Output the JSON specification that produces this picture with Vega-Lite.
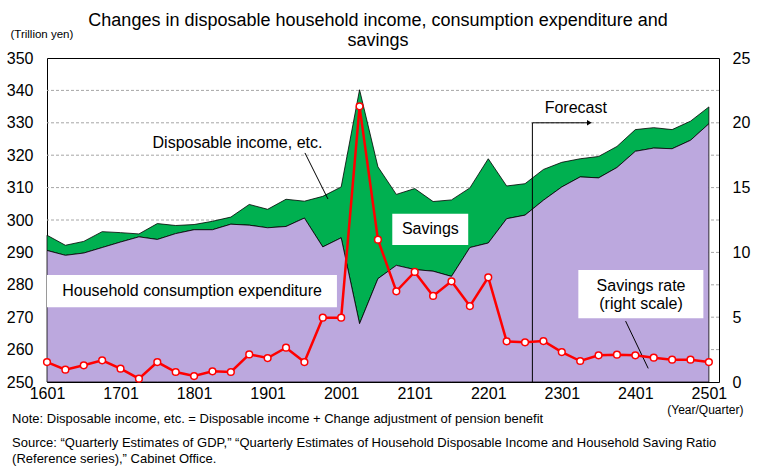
{
  "$schema": "https://vega.github.io/schema/vega-lite/v6.json",
  "width": 672,
  "height": 324,
  "autosize": {"type": "none"},
  "padding": {"left": 47, "top": 58, "right": 41, "bottom": 84},
  "background": "#ffffff",
  "config": {
    "font": "Liberation Sans",
    "view": {"stroke": "#000000", "strokeWidth": 1},
    "axis": {"labelColor": "#000000", "titleColor": "#000000", "labelFont": "Liberation Sans", "titleFont": "Liberation Sans", "labelOverlap": false}
  },
  "title": {
    "text": ["Changes in disposable household income, consumption expenditure and", "savings"],
    "fontSize": 18,
    "fontWeight": "normal",
    "color": "#000000",
    "anchor": "middle",
    "frame": "bounds",
    "lineHeight": 20,
    "offset": -22
  },
  "datasets": {
    "main": [
      {"i": 0, "q": "1601", "income": 295.3, "consumption": 290.6, "rate": 1.54},
      {"i": 1, "q": "1602", "income": 292.2, "consumption": 289.1, "rate": 0.95},
      {"i": 2, "q": "1603", "income": 293.4, "consumption": 289.8, "rate": 1.29},
      {"i": 3, "q": "1604", "income": 296.4, "consumption": 291.5, "rate": 1.67},
      {"i": 4, "q": "1701", "income": 296.1, "consumption": 293.2, "rate": 1.03},
      {"i": 5, "q": "1702", "income": 295.7, "consumption": 294.8, "rate": 0.26},
      {"i": 6, "q": "1703", "income": 298.9, "consumption": 294.0, "rate": 1.54},
      {"i": 7, "q": "1704", "income": 298.3, "consumption": 295.8, "rate": 0.77},
      {"i": 8, "q": "1801", "income": 298.6, "consumption": 297.0, "rate": 0.46},
      {"i": 9, "q": "1802", "income": 299.6, "consumption": 297.0, "rate": 0.82},
      {"i": 10, "q": "1803", "income": 300.9, "consumption": 298.7, "rate": 0.77},
      {"i": 11, "q": "1804", "income": 304.8, "consumption": 298.4, "rate": 2.13},
      {"i": 12, "q": "1901", "income": 303.3, "consumption": 297.6, "rate": 1.85},
      {"i": 13, "q": "1902", "income": 306.4, "consumption": 298.0, "rate": 2.65},
      {"i": 14, "q": "1903", "income": 305.8, "consumption": 300.6, "rate": 1.54},
      {"i": 15, "q": "1904", "income": 307.3, "consumption": 291.7, "rate": 4.96},
      {"i": 16, "q": "2001", "income": 310.2, "consumption": 294.5, "rate": 4.96},
      {"i": 17, "q": "2002", "income": 340.2, "consumption": 268.0, "rate": 21.27},
      {"i": 18, "q": "2003", "income": 316.4, "consumption": 281.9, "rate": 10.98},
      {"i": 19, "q": "2004", "income": 307.9, "consumption": 286.0, "rate": 7.0},
      {"i": 20, "q": "2101", "income": 309.7, "consumption": 284.7, "rate": 8.49},
      {"i": 21, "q": "2102", "income": 305.7, "consumption": 284.2, "rate": 6.64},
      {"i": 22, "q": "2103", "income": 306.2, "consumption": 282.6, "rate": 7.77},
      {"i": 23, "q": "2104", "income": 309.9, "consumption": 291.5, "rate": 5.86},
      {"i": 24, "q": "2201", "income": 318.9, "consumption": 292.9, "rate": 8.08},
      {"i": 25, "q": "2202", "income": 310.5, "consumption": 300.4, "rate": 3.14},
      {"i": 26, "q": "2203", "income": 311.2, "consumption": 301.5, "rate": 3.06},
      {"i": 27, "q": "2204", "income": 315.6, "consumption": 306.1, "rate": 3.16},
      {"i": 28, "q": "2301", "income": 317.8, "consumption": 310.2, "rate": 2.31},
      {"i": 29, "q": "2302", "income": 318.9, "consumption": 313.3, "rate": 1.62},
      {"i": 30, "q": "2303", "income": 319.6, "consumption": 313.0, "rate": 2.06},
      {"i": 31, "q": "2304", "income": 322.7, "consumption": 316.2, "rate": 2.11},
      {"i": 32, "q": "2401", "income": 327.9, "consumption": 321.2, "rate": 2.06},
      {"i": 33, "q": "2402", "income": 328.5, "consumption": 322.2, "rate": 1.88},
      {"i": 34, "q": "2403", "income": 327.9, "consumption": 322.0, "rate": 1.72},
      {"i": 35, "q": "2404", "income": 330.5, "consumption": 324.6, "rate": 1.72},
      {"i": 36, "q": "2501", "income": 334.9, "consumption": 329.7, "rate": 1.54}
    ],
    "grid": [
      {"g": 260}, {"g": 270}, {"g": 280}, {"g": 290}, {"g": 300},
      {"g": 310}, {"g": 320}, {"g": 330}, {"g": 340}
    ],
    "boxes": [
      {"box": "Household consumption expenditure", "x1": 0, "x2": 15.77, "y1": 283.0, "y2": 273.1},
      {"box": "Savings", "x1": 18.78, "x2": 22.91, "y1": 301.9, "y2": 292.3},
      {"box": "Savings rate", "x1": 28.9, "x2": 35.7, "y1": 284.6, "y2": 269.7}
    ],
    "labels": [
      {"label": "Disposable income, etc.", "x": 10.36, "y": 323.8},
      {"label": "Household consumption expenditure", "x": 7.89, "y": 278.2},
      {"label": "Savings", "x": 20.85, "y": 297.1},
      {"label": "Forecast", "x": 28.76, "y": 334.5},
      {"label": "Savings rate", "x": 32.31, "y": 279.6},
      {"label": "(right scale)", "x": 32.31, "y": 274.1}
    ],
    "segments": [
      {"seg": "income leader", "x": 14.03, "y": 320.7, "x2": 15.28, "y2": 306.5},
      {"seg": "rate leader", "x": 31.47, "y": 268.8, "x2": 32.7, "y2": 254.2},
      {"seg": "forecast vertical", "x": 26.4, "y": 250, "x2": 26.4, "y2": 330.0},
      {"seg": "forecast arrow", "x": 26.4, "y": 330.0, "x2": 29.5, "y2": 330.0}
    ],
    "arrowheads": [
      {"x": 29.5, "y": 330.0}
    ],
    "notes": [
      {"note": "Note: Disposable income, etc. = Disposable income + Change adjustment of pension benefit", "x": -1.9, "y": 237.3},
      {"note": "Source: “Quarterly Estimates of GDP,” “Quarterly Estimates of Household Disposable Income and Household Saving Ratio", "x": -1.9, "y": 230.0},
      {"note": "(Reference series),” Cabinet Office.", "x": -1.9, "y": 225.1}
    ]
  },
  "layer": [
    {
      "layer": [
        {
          "data": {"name": "grid"},
          "mark": {"type": "rule", "color": "#A6A6A6", "strokeWidth": 1, "strokeDash": [3, 2]},
          "encoding": {
            "y": {
              "field": "g", "type": "quantitative",
              "scale": {"domain": [250, 350], "nice": false, "zero": false},
              "axis": {
                "orient": "left",
                "values": [250, 260, 270, 280, 290, 300, 310, 320, 330, 340, 350],
                "tickCount": 11,
                "grid": false, "domain": false, "ticks": false,
                "labelFontSize": 16, "labelPadding": 14, "labelOverlap": false,
                "title": "(Trillion yen)", "titleAngle": 0, "titleAlign": "left",
                "titleBaseline": "alphabetic", "titleX": -37, "titleY": -21,
                "titleFontSize": 11.5, "titleFontWeight": "normal"
              }
            }
          }
        },
        {
          "data": {"name": "main"},
          "mark": {"type": "area", "fill": "#00B050", "stroke": "#000000", "strokeWidth": 0.8, "opacity": 1},
          "encoding": {
            "x": {
              "field": "i", "type": "quantitative",
              "scale": {"domain": [0, 36.55], "nice": false, "zero": false},
              "axis": {
                "values": [0, 4, 8, 12, 16, 20, 24, 28, 32, 36],
                "tickCount": 10,
                "labelExpr": "(16 + datum.value / 4) + '01'",
                "grid": false, "domain": false, "ticks": false,
                "labelFontSize": 16, "labelPadding": 3, "labelFlush": false, "labelOverlap": false, "labelDx": 2,
                "title": "(Year/Quarter)", "titleAlign": "right", "titleAnchor": "end",
                "titleX": 696, "titleY": 31, "titleBaseline": "alphabetic",
                "titleFontSize": 12, "titleFontWeight": "normal"
              }
            },
            "y": {"field": "income", "type": "quantitative", "scale": {"domain": [250, 350], "nice": false, "zero": false}},
            "y2": {"field": "consumption"}
          }
        },
        {
          "data": {"name": "main"},
          "mark": {"type": "area", "fill": "#BCA8DE", "stroke": "#000000", "strokeWidth": 0.8, "opacity": 1},
          "encoding": {
            "x": {"field": "i", "type": "quantitative", "scale": {"domain": [0, 36.55], "nice": false, "zero": false}},
            "y": {"field": "consumption", "type": "quantitative", "scale": {"domain": [250, 350], "nice": false, "zero": false}},
            "y2": {"datum": 250}
          }
        },
        {
          "data": {"name": "boxes"},
          "mark": {"type": "rect", "fill": "#ffffff", "stroke": null},
          "encoding": {
            "x": {"field": "x1", "type": "quantitative", "scale": {"domain": [0, 36.55], "nice": false, "zero": false}},
            "x2": {"field": "x2"},
            "y": {"field": "y1", "type": "quantitative", "scale": {"domain": [250, 350], "nice": false, "zero": false}},
            "y2": {"field": "y2"}
          }
        },
        {
          "data": {"name": "segments"},
          "mark": {"type": "rule", "color": "#000000", "strokeWidth": 1},
          "encoding": {
            "x": {"field": "x", "type": "quantitative", "scale": {"domain": [0, 36.55], "nice": false, "zero": false}},
            "x2": {"field": "x2"},
            "y": {"field": "y", "type": "quantitative", "scale": {"domain": [250, 350], "nice": false, "zero": false}},
            "y2": {"field": "y2"}
          }
        },
        {
          "data": {"name": "arrowheads"},
          "mark": {"type": "point", "shape": "triangle-right", "filled": true, "color": "#000000", "size": 30, "opacity": 1},
          "encoding": {
            "x": {"field": "x", "type": "quantitative", "scale": {"domain": [0, 36.55], "nice": false, "zero": false}},
            "y": {"field": "y", "type": "quantitative", "scale": {"domain": [250, 350], "nice": false, "zero": false}}
          }
        },
        {
          "data": {"name": "labels"},
          "mark": {"type": "text", "fontSize": 16, "color": "#000000", "align": "center", "baseline": "middle", "font": "Liberation Sans"},
          "encoding": {
            "x": {"field": "x", "type": "quantitative", "scale": {"domain": [0, 36.55], "nice": false, "zero": false}},
            "y": {"field": "y", "type": "quantitative", "scale": {"domain": [250, 350], "nice": false, "zero": false}},
            "text": {"field": "label"}
          }
        },
        {
          "data": {"name": "notes"},
          "mark": {"type": "text", "fontSize": 13, "color": "#000000", "align": "left", "baseline": "alphabetic", "font": "Liberation Sans"},
          "encoding": {
            "x": {"field": "x", "type": "quantitative", "scale": {"domain": [0, 36.55], "nice": false, "zero": false}},
            "y": {"field": "y", "type": "quantitative", "scale": {"domain": [250, 350], "nice": false, "zero": false}},
            "text": {"field": "note"}
          }
        }
      ]
    },
    {
      "layer": [
        {
          "data": {"name": "main"},
          "mark": {"type": "line", "color": "#FF0000", "strokeWidth": 2.5},
          "encoding": {
            "x": {"field": "i", "type": "quantitative", "scale": {"domain": [0, 36.55], "nice": false, "zero": false}},
            "y": {
              "field": "rate", "type": "quantitative",
              "scale": {"domain": [0, 25], "nice": false},
              "axis": {
                "orient": "right", "values": [0, 5, 10, 15, 20, 25], "tickCount": 6,
                "grid": false, "domain": false, "ticks": false, "labelOverlap": false,
                "labelFontSize": 16, "labelPadding": 13, "title": null
              }
            }
          }
        },
        {
          "data": {"name": "main"},
          "mark": {"type": "point", "shape": "circle", "filled": true, "fill": "#ffffff", "stroke": "#FF0000", "strokeWidth": 1.5, "size": 45, "opacity": 1},
          "encoding": {
            "x": {"field": "i", "type": "quantitative", "scale": {"domain": [0, 36.55], "nice": false, "zero": false}},
            "y": {"field": "rate", "type": "quantitative", "scale": {"domain": [0, 25], "nice": false}}
          }
        }
      ]
    }
  ],
  "resolve": {"scale": {"y": "independent"}}
}
